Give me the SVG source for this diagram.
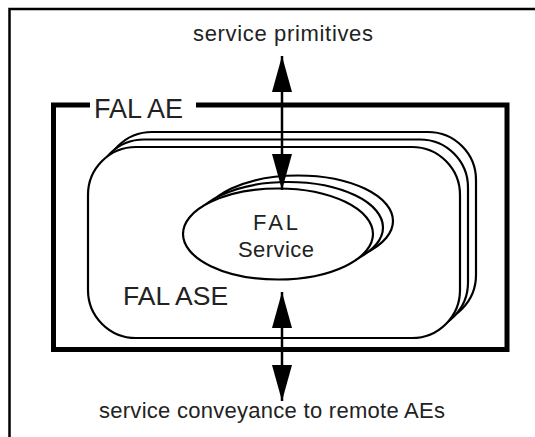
<svg xmlns="http://www.w3.org/2000/svg" width="535" height="437" viewBox="0 0 535 437">
<defs>
<style>
.t{font-family:"Liberation Sans",Arial,sans-serif;fill:#222}
.sh{fill:#fff;stroke:#000;stroke-width:2.2}
.ln{fill:none;stroke:#000;stroke-width:2.5}
</style>
<marker id="ah" viewBox="0 0 36 20" refX="36" refY="10" markerWidth="36" markerHeight="20" markerUnits="userSpaceOnUse" orient="auto-start-reverse">
<path d="M0,0 L36,10 L0,20 Z" fill="#000"/>
</marker>
</defs>
<rect width="535" height="437" fill="#fff"/>
<path d="M9.5,445 V9 H545" fill="none" stroke="#000" stroke-width="2.5"/>
<g id="fal-ae">
<path d="M90,105 H53.5 V349.5 H507 V105 H196" fill="none" stroke="#000" stroke-width="5"/>
<text class="t" x="94" y="118" font-size="27">FAL AE</text>
</g>
<g id="fal-ase">
<rect class="sh" x="104" y="132" width="372" height="191" rx="48" ry="48"/>
<rect class="sh" x="96" y="139.5" width="372" height="191" rx="48" ry="48"/>
<rect class="sh" x="88" y="147" width="372" height="191" rx="48" ry="48"/>
<text class="t" x="123" y="305" font-size="26.5">FAL ASE</text>
</g>
<g id="fal-service">
<ellipse class="sh" cx="298" cy="221" rx="95" ry="45.5"/>
<ellipse class="sh" cx="288" cy="227.5" rx="95" ry="45.5"/>
<ellipse class="sh" cx="278" cy="234" rx="95" ry="45.5"/>
<text class="t" x="253" y="230" font-size="22" textLength="45" lengthAdjust="spacing">FAL</text>
<text class="t" x="238" y="257" font-size="22" textLength="76" lengthAdjust="spacing">Service</text>
</g>
<g id="connectors">
<line class="ln" x1="282" y1="56" x2="282" y2="190" marker-start="url(#ah)" marker-end="url(#ah)"/>
<line class="ln" x1="282" y1="292" x2="282" y2="401" marker-start="url(#ah)" marker-end="url(#ah)"/>
</g>
<text class="t" x="193" y="41" font-size="22" textLength="180" lengthAdjust="spacing">service primitives</text>
<text class="t" x="99" y="418" font-size="22" textLength="346" lengthAdjust="spacing">service conveyance to remote AEs</text>
</svg>
